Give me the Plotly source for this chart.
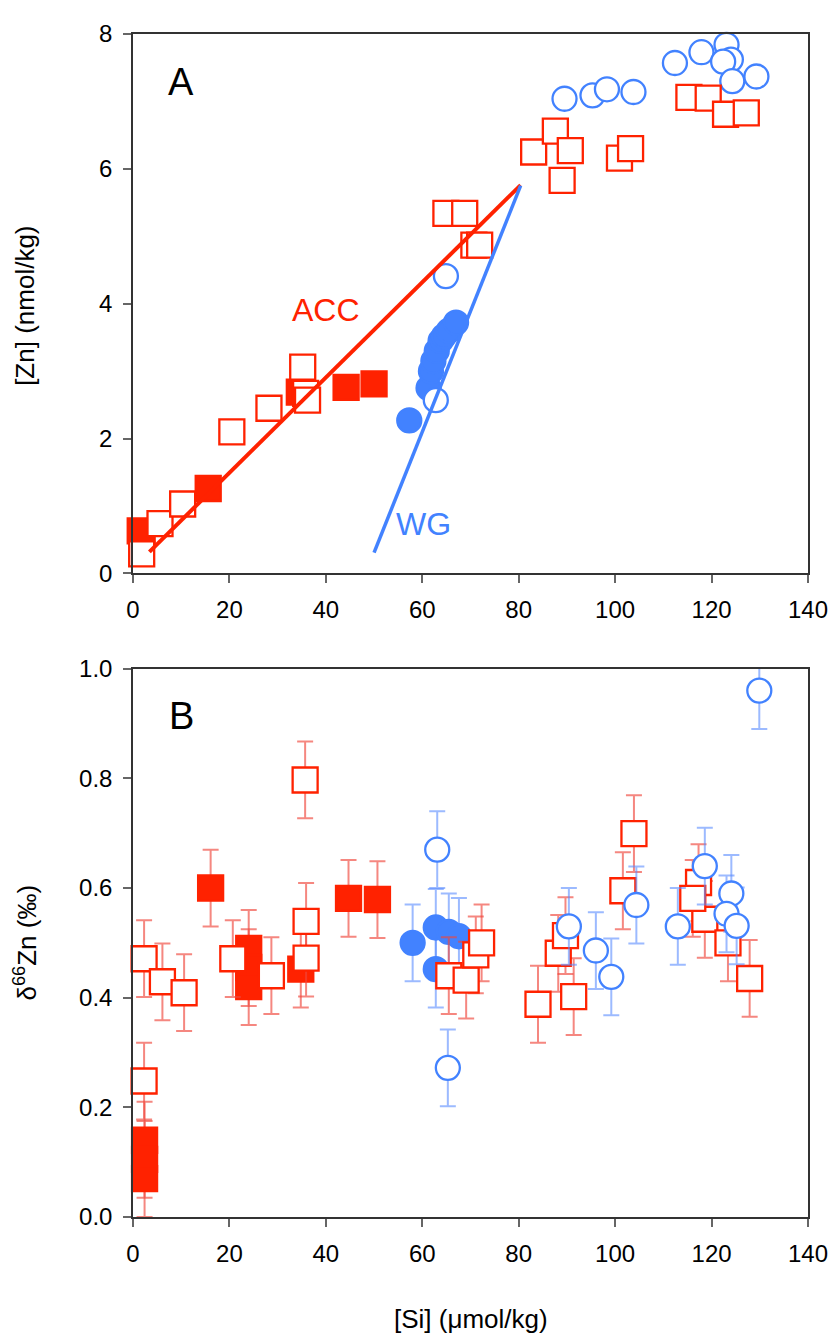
import plotly.graph_objects as go

RED = "#ff2200"
BLUE = "#4282ff"
RED_ERR = "rgba(240,70,60,0.65)"
BLUE_ERR = "rgba(90,140,255,0.6)"

# ---------- Panel A : [Zn] vs [Si] ----------
a_acc_open_x = [1.8, 5.6, 10.3, 20.5, 28.2, 35.2, 35.8, 36.2, 64.9, 68.8, 70.7, 71.9,
                83.1, 87.6, 90.7, 89.0, 100.9, 103.2, 115.3, 119.3, 122.9, 127.2]
a_acc_open_y = [0.29, 0.74, 1.03, 2.10, 2.45, 3.06, 2.67, 2.57, 5.34, 5.34, 4.87, 4.87,
                6.25, 6.56, 6.27, 5.83, 6.16, 6.30, 7.06, 7.05, 6.81, 6.83]
a_acc_fill_x = [1.5, 1.9, 15.6, 34.5, 44.2, 50.0]
a_acc_fill_y = [0.63, 0.62, 1.26, 2.69, 2.76, 2.81]
a_wg_open_x = [62.8, 64.9, 89.5, 95.3, 98.3, 103.8, 112.4, 117.9, 123.1, 124.0, 122.4, 124.3, 129.3]
a_wg_open_y = [2.57, 4.41, 7.04, 7.09, 7.18, 7.14, 7.57, 7.73, 7.84, 7.62, 7.59, 7.30, 7.37]
a_wg_fill_x = [57.3, 61.3, 61.8, 62.3, 63.0, 63.8, 64.5, 65.5, 67.0]
a_wg_fill_y = [2.27, 2.75, 3.00, 3.15, 3.30, 3.45, 3.52, 3.60, 3.72]
acc_line_x = [3.4, 80.4]
acc_line_y = [0.32, 5.76]
wg_line_x = [50.0, 80.4]
wg_line_y = [0.31, 5.75]

# ---------- Panel B : d66Zn vs [Si] ----------
b_acc_fill_x = [2.4, 2.4, 2.4, 16.1, 24.0, 24.0, 24.0, 34.8, 44.7, 50.7]
b_acc_fill_y = [0.14, 0.105, 0.07, 0.60, 0.49, 0.455, 0.42, 0.452, 0.581, 0.579]
b_acc_open_x = [2.3, 2.3, 6.1, 10.6, 20.7, 28.7, 35.9, 35.9, 35.7, 65.5, 69.1, 71.1, 72.3,
                84.0, 88.2, 89.7, 91.4, 101.6, 103.9, 117.3, 118.6, 116.1, 123.4, 127.9]
b_acc_open_y = [0.471, 0.248, 0.429, 0.409, 0.471, 0.44, 0.539, 0.472, 0.797, 0.44, 0.432, 0.478, 0.50,
                0.388, 0.481, 0.513, 0.402, 0.595, 0.699, 0.61, 0.543, 0.581, 0.50, 0.435]
b_wg_fill_x = [58.0, 62.8, 65.5, 67.6, 62.8]
b_wg_fill_y = [0.50, 0.528, 0.52, 0.512, 0.452]
b_wg_open_x = [63.1, 65.3, 90.4, 96.0, 99.2, 104.4, 113.0, 118.6, 124.1, 123.1, 125.2, 129.9]
b_wg_open_y = [0.67, 0.272, 0.53, 0.486, 0.438, 0.569, 0.53, 0.64, 0.59, 0.553, 0.531, 0.96]
b_err = 0.07

x_ticks = [0, 20, 40, 60, 80, 100, 120, 140]
a_y_ticks = [0, 2, 4, 6, 8]
b_y_ticks = [0.0, 0.2, 0.4, 0.6, 0.8, 1.0]
b_y_tick_text = ["0.0", "0.2", "0.4", "0.6", "0.8", "1.0"]

fig = go.Figure()

SQ = 25
CI = 24

def mk(x, y, xa, ya, symbol, fill, edge, errc, err=None):
    return go.Scatter(x=x, y=y, mode="markers", xaxis=xa, yaxis=ya, cliponaxis=False,
                      marker=dict(symbol=symbol, size=SQ if symbol == "square" else CI,
                                  color=fill, line=dict(color=edge, width=2.3)),
                      error_y=None if err is None else dict(type="constant", value=err, color=errc,
                                                            thickness=2, width=8),
                      showlegend=False, hoverinfo="x+y")

# Panel A
fig.add_trace(mk(a_wg_fill_x, a_wg_fill_y, "x", "y", "circle", BLUE, BLUE, BLUE_ERR))
fig.add_trace(mk(a_wg_open_x, a_wg_open_y, "x", "y", "circle", "white", BLUE, BLUE_ERR))
fig.add_trace(mk(a_acc_fill_x, a_acc_fill_y, "x", "y", "square", RED, RED, RED_ERR))
fig.add_trace(mk(a_acc_open_x, a_acc_open_y, "x", "y", "square", "white", RED, RED_ERR))
fig.add_trace(go.Scatter(x=acc_line_x, y=acc_line_y, mode="lines", xaxis="x", yaxis="y",
                         line=dict(color=RED, width=4), showlegend=False))
fig.add_trace(go.Scatter(x=wg_line_x, y=wg_line_y, mode="lines", xaxis="x", yaxis="y",
                         line=dict(color=BLUE, width=3.5), showlegend=False))

# Panel B
fig.add_trace(mk(b_wg_fill_x, b_wg_fill_y, "x2", "y2", "circle", BLUE, BLUE, BLUE_ERR, b_err))
fig.add_trace(mk(b_acc_fill_x, b_acc_fill_y, "x2", "y2", "square", RED, RED, RED_ERR, b_err))
fig.add_trace(mk(b_acc_open_x, b_acc_open_y, "x2", "y2", "square", "white", RED, RED_ERR, b_err))
fig.add_trace(mk(b_wg_open_x, b_wg_open_y, "x2", "y2", "circle", "white", BLUE, BLUE_ERR, b_err))

FONT = "Liberation Sans, Arial, Helvetica, sans-serif"
axis_common = dict(showline=True, mirror=True, linecolor="#333", linewidth=1.5,
                   ticks="outside", ticklen=8, tickwidth=1.5, tickcolor="#666",
                   showgrid=False, zeroline=False, ticklabelstandoff=6,
                   tickfont=dict(family=FONT, size=24, color="black"))

ann_c = dict(showarrow=False, xanchor="center", yanchor="middle")

# the page body adds an 8 px margin, so the figure is drawn 8 px smaller
fig.update_layout(
    width=832, height=1336,
    margin=dict(l=125, r=31, t=16, b=127),
    paper_bgcolor="white", plot_bgcolor="white",
    font=dict(family=FONT, color="black"),
    xaxis=dict(domain=[0, 1], anchor="y", range=[0, 140], tickvals=x_ticks, **axis_common),
    yaxis=dict(domain=[0.544, 1], anchor="x", range=[0, 8], tickvals=a_y_ticks, **axis_common),
    xaxis2=dict(domain=[0, 1], anchor="y2", range=[0, 140], tickvals=x_ticks, **axis_common),
    yaxis2=dict(domain=[0, 0.4635], anchor="x2", range=[0, 1.0], tickvals=b_y_ticks,
                ticktext=b_y_tick_text, **axis_common),
    annotations=[
        dict(text="A", x=10, y=7.29, xref="x", yref="y", font=dict(size=38, color="black"), **ann_c),
        dict(text="ACC", x=40, y=3.9, xref="x", yref="y", font=dict(size=32, color=RED), **ann_c),
        dict(text="WG", x=60.2, y=0.73, xref="x", yref="y", font=dict(size=32, color=BLUE), **ann_c),
        dict(text="B", x=10, y=0.914, xref="x2", yref="y2", font=dict(size=38, color="black"), **ann_c),
        dict(text="[Zn] (nmol/kg)", x=25, y=298, xref="paper", yref="paper",
             textangle=-90, font=dict(size=26), **ann_c),
        dict(text="δ<sup>66</sup>Zn (‰)", x=25, y=940, xref="paper", yref="paper",
             textangle=-90, font=dict(size=26), **ann_c),
        dict(text="[Si] (μmol/kg)", x=471, y=1320, xref="paper", yref="paper",
             font=dict(size=26), **ann_c),
    ],
)

# convert page-pixel positions of the axis-title annotations to paper coords
plot_l, plot_r, plot_t, plot_b = 133, 809, 24, 1217
for ann in fig.layout.annotations:
    if ann.xref == "paper":
        px, py = ann.x, ann.y
        ann.x = (px - plot_l) / (plot_r - plot_l)
        ann.y = (plot_b - py) / (plot_b - plot_t)

fig.write_html("out.html")
